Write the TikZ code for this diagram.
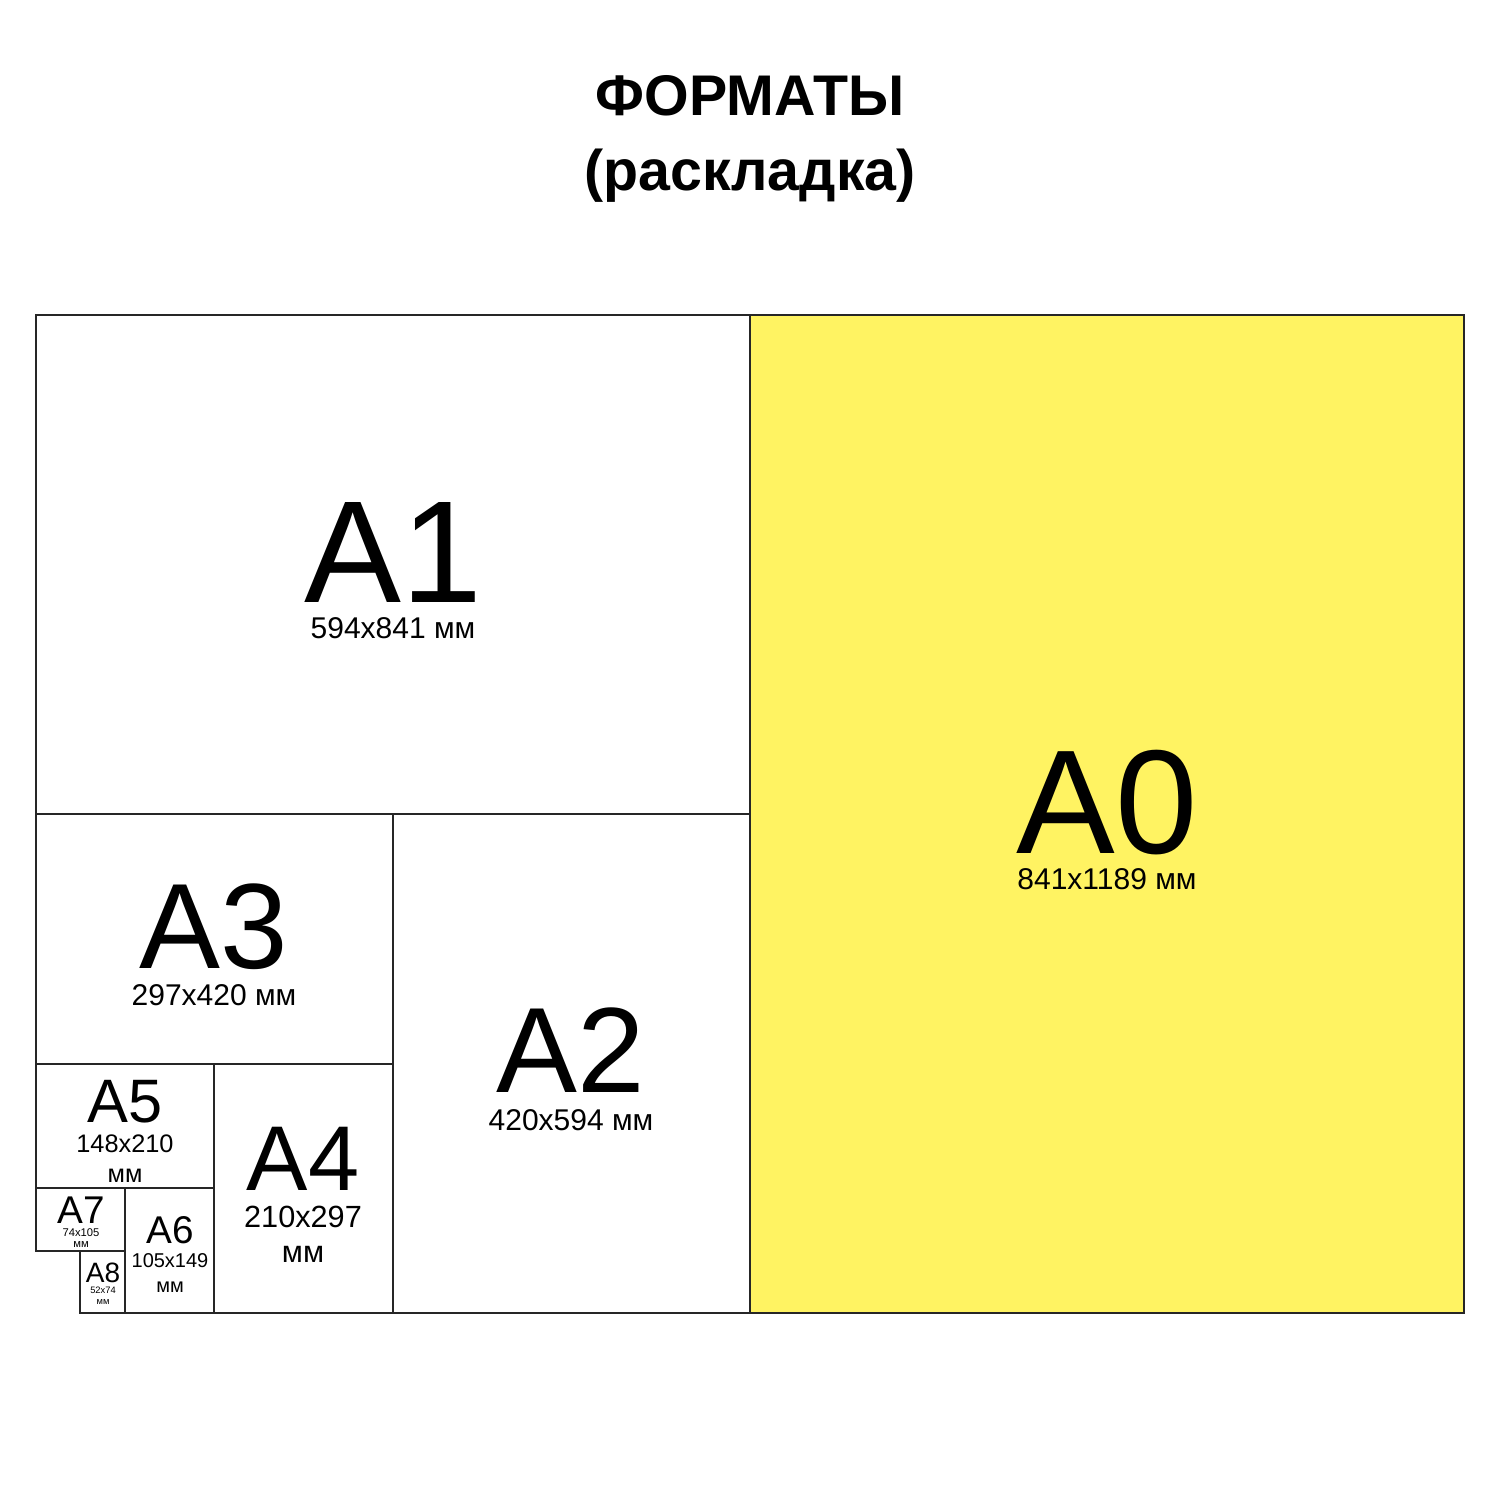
\documentclass[tikz,border=0pt]{standalone}
\usepackage{fontspec}
\setmainfont{Liberation Sans}
\definecolor{paperyellow}{RGB}{255,243,98}
\tikzset{every picture/.style={line width=1.1pt}}
\tikzset{lbl/.style={anchor=base,inner sep=0.75pt,align=center},
         big/.style={lbl,text depth=0pt}}
\newcommand{\fsz}[1]{\fontsize{#1}{#1}\selectfont}

\begin{document}
\begin{tikzpicture}[x=0.75pt,y=0.75pt,yscale=-1,xscale=1]
        %set diagram left start at 0, and has height of 1500
        \useasboundingbox (0,0) rectangle (1500,1500);

        %Shape: Rectangle [A0]
        \draw [fill=paperyellow, draw=black!85] (750,315) rectangle (1464,1313) ;
        %Shape: Rectangle [A1]
        \draw [draw=black!85] (36,315) rectangle (750,814) ;
        %Shape: Rectangle [A2]
        \draw [draw=black!85] (393,814) rectangle (750,1313) ;
        %Shape: Rectangle [A3]
        \draw [draw=black!85] (36,814) rectangle (393,1064) ;
        %Shape: Rectangle [A4]
        \draw [draw=black!85] (214,1064) rectangle (393,1313) ;
        %Shape: Rectangle [A5]
        \draw [draw=black!85] (36,1064) rectangle (214,1188) ;
        %Shape: Rectangle [A6]
        \draw [draw=black!85] (125,1188) rectangle (214,1313) ;
        %Shape: Rectangle [A7]
        \draw [draw=black!85] (36,1188) rectangle (125,1251) ;
        %Shape: Rectangle [A8]
        \draw [draw=black!85] (80,1251) rectangle (125,1313) ;

        % Text Node
        \draw (750,115) node [big, font=\fsz{43}\bfseries] (title) {ФОРМАТЫ};
        % Text Node
        \draw (750,190) node [lbl, font=\fsz{43}\bfseries] (subtitle) {(раскладка)};

        % Text Node
        \draw (1107,853) node [big, font=\fsz{111}] (a0) {A0};
        % Text Node
        \draw (1107,889) node [lbl, font=\fsz{22.5}] (a0size) {841x1189 мм};
        % Text Node
        \draw (393,602) node [big, font=\fsz{109}] (a1) {A1};
        % Text Node
        \draw (393,638) node [lbl, font=\fsz{22.5}] (a1size) {594x841 мм};
        % Text Node
        \draw (571,1092) node [big, font=\fsz{91}] (a2) {A2};
        % Text Node
        \draw (571,1130) node [lbl, font=\fsz{22.5}] (a2size) {420x594 мм};
        % Text Node
        \draw (214,968) node [big, font=\fsz{91}] (a3) {A3};
        % Text Node
        \draw (214,1005) node [lbl, font=\fsz{22.5}] (a3size) {297x420 мм};
        % Text Node
        \draw (303,1190) node [big, font=\fsz{69}] (a4) {A4};
        % Text Node
        \draw (303,1227) node [big, font=\fsz{23}] (a4size) {210x297};
        % Text Node
        \draw (303,1262) node [lbl, font=\fsz{23}] (a4unit) {мм};
        % Text Node
        \draw (125,1122) node [big, font=\fsz{46}] (a5) {A5};
        % Text Node
        \draw (125,1152) node [big, font=\fsz{19}] (a5size) {148x210};
        % Text Node
        \draw (125,1182) node [lbl, font=\fsz{19}] (a5unit) {мм};
        % Text Node
        \draw (170,1243) node [big, font=\fsz{29}] (a6) {A6};
        % Text Node
        \draw (170,1267) node [big, font=\fsz{15}] (a6size) {105x149};
        % Text Node
        \draw (170,1292) node [lbl, font=\fsz{15}] (a6unit) {мм};
        % Text Node
        \draw (81,1223) node [big, font=\fsz{29}] (a7) {A7};
        % Text Node
        \draw (81,1236) node [big, font=\fsz{8.4}] (a7size) {74x105};
        % Text Node
        \draw (81,1247) node [lbl, font=\fsz{8.4}] (a7unit) {мм};
        % Text Node
        \draw (103,1282) node [big, font=\fsz{21}] (a8) {A8};
        % Text Node
        \draw (103,1293) node [big, font=\fsz{7}] (a8size) {52x74};
        % Text Node
        \draw (103,1304) node [lbl, font=\fsz{7}] (a8unit) {мм};

    \end{tikzpicture}
\end{document}
